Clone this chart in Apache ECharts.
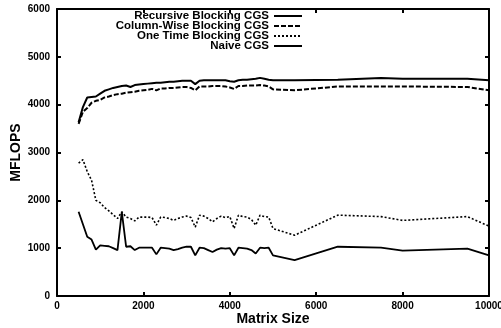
<!DOCTYPE html>
<html>
<head>
<meta charset="utf-8">
<script src="https://cdn.jsdelivr.net/npm/echarts@6/dist/echarts.min.js"></script>
<style>html,body{margin:0;padding:0;background:#fff;}#c{width:501px;height:328px;}</style>
</head>
<body>
<div id="c"></div>
<script>
const seriesNames = ['Recursive Blocking CGS', 'Column-Wise Blocking CGS', 'One Time Blocking CGS', 'Naive CGS'];
const sizes = [500, 600, 700, 800, 900, 1000, 1100, 1200, 1300, 1400, 1500, 1600, 1700, 1800, 1900, 2000, 2100, 2200, 2300, 2400, 2500, 2600, 2700, 2800, 2900, 3000, 3100, 3200, 3300, 3400, 3500, 3600, 3700, 3800, 3900, 4000, 4100, 4200, 4300, 4400, 4500, 4600, 4700, 4800, 4900, 5000, 5500, 6500, 7500, 8000, 9500, 10000];
const recursive = [3630, 3950, 4150, 4160, 4170, 4230, 4290, 4320, 4350, 4370, 4390, 4400, 4370, 4410, 4420, 4430, 4440, 4450, 4460, 4460, 4470, 4480, 4480, 4490, 4500, 4500, 4500, 4430, 4500, 4510, 4510, 4510, 4510, 4510, 4510, 4490, 4480, 4510, 4520, 4520, 4530, 4540, 4560, 4540, 4520, 4510, 4510, 4520, 4560, 4540, 4540, 4510];
const columnWise = [3600, 3850, 3930, 4040, 4080, 4100, 4150, 4170, 4200, 4220, 4230, 4250, 4260, 4270, 4290, 4300, 4310, 4330, 4300, 4340, 4340, 4350, 4350, 4360, 4370, 4370, 4350, 4300, 4380, 4380, 4380, 4390, 4390, 4390, 4380, 4360, 4330, 4390, 4390, 4400, 4400, 4400, 4410, 4400, 4380, 4320, 4300, 4380, 4380, 4380, 4370, 4300];
const oneTime = [2780, 2850, 2600, 2420, 2000, 1950, 1850, 1780, 1700, 1620, 1760, 1650, 1620, 1570, 1650, 1650, 1650, 1640, 1480, 1650, 1640, 1620, 1580, 1620, 1650, 1670, 1640, 1440, 1690, 1670, 1620, 1550, 1620, 1670, 1640, 1660, 1410, 1690, 1660, 1650, 1600, 1480, 1690, 1660, 1650, 1410, 1270, 1690, 1660, 1580, 1660, 1460];
const naive = [1760, 1500, 1240, 1180, 970, 1060, 1050, 1040, 1000, 960, 1760, 1030, 1040, 960, 1010, 1010, 1010, 1010, 870, 1010, 1000, 990, 960, 980, 1010, 1030, 1030, 850, 1010, 1000, 960, 920, 970, 1000, 990, 1000, 850, 1010, 1000, 990, 960, 890, 1010, 1000, 1010, 850, 750, 1030, 1010, 950, 990, 850];
const xTicks = [0, 2000, 4000, 6000, 8000, 10000];
const yTicks = [0, 1000, 2000, 3000, 4000, 5000, 6000];

const values = [recursive, columnWise, oneTime, naive];
const lineTypes = ['solid', [5, 2], [2, 2], 'solid'];
const lineWidths = [2, 2, 1.6, 1.8];

const chart = echarts.init(document.getElementById('c'), null, {renderer: 'canvas'});
const font = 'Liberation Sans, Arial, sans-serif';
const axisCommon = {
  axisLine: {show: true, onZero: false, lineStyle: {color: '#000', width: 2}},
  axisTick: {show: true, inside: true, length: 4, lineStyle: {color: '#000', width: 2}},
  splitLine: {show: false}
};
const legends = seriesNames.map((n, i) => ({
  data: [n],
  right: 198,
  top: 10 + i * 10,
  orient: 'vertical',
  align: 'right',
  padding: 0,
  itemGap: 0,
  itemWidth: 28,
  itemHeight: 10,
  itemStyle: {opacity: 0},
  textStyle: {fontFamily: font, fontWeight: 'bold', fontSize: 11.5, color: '#000', padding: [0, 0, 0, 0]}
}));
const plain = v => String(v);
chart.setOption({
  animation: false,
  backgroundColor: '#fff',
  legend: legends,
  grid: {left: 57, right: 12, top: 9, bottom: 32, containLabel: false, outerBoundsMode: 'none'},
  xAxis: [
    Object.assign({type: 'value', min: 0, max: 10000, interval: 2000, position: 'bottom',
      name: 'Matrix Size', nameLocation: 'middle', nameGap: 16, nameMoveOverlap: false,
      nameTextStyle: {fontFamily: font, fontWeight: 'bold', fontSize: 14, color: '#000'},
      axisLabel: {fontFamily: font, fontWeight: 'bold', fontSize: 10, color: '#000', margin: 5,
        customValues: xTicks, formatter: plain}}, axisCommon),
    Object.assign({type: 'value', min: 0, max: 10000, interval: 2000, position: 'top',
      axisLabel: {show: false}}, axisCommon)
  ],
  yAxis: [
    Object.assign({type: 'value', min: 0, max: 6000, interval: 1000, position: 'left',
      name: 'MFLOPS', nameLocation: 'middle', nameGap: 34, nameMoveOverlap: false,
      nameTextStyle: {fontFamily: font, fontWeight: 'bold', fontSize: 14, color: '#000'},
      axisLabel: {fontFamily: font, fontWeight: 'bold', fontSize: 10, color: '#000', margin: 7,
        customValues: yTicks, formatter: plain}}, axisCommon),
    Object.assign({type: 'value', min: 0, max: 6000, interval: 1000, position: 'right',
      axisLabel: {show: false}}, axisCommon)
  ],
  series: seriesNames.map((n, i) => ({
    name: n,
    type: 'line',
    xAxisIndex: 0,
    yAxisIndex: 0,
    symbol: 'none',
    color: '#000',
    lineStyle: {color: '#000', width: lineWidths[i], type: lineTypes[i]},
    data: sizes.map((s, k) => [s, values[i][k]])
  }))
});
</script>
</body>
</html>
